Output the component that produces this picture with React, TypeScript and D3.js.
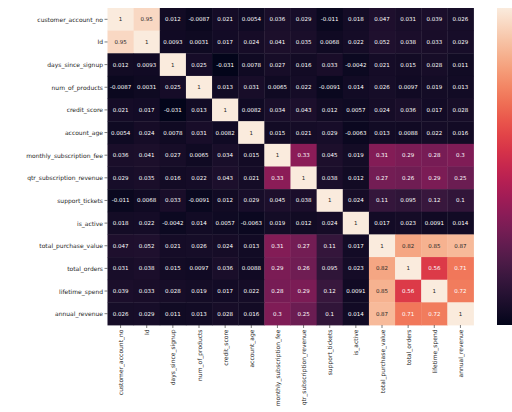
import React from "react";
import * as d3 from "d3";

const labels: string[] = [
  "customer_account_no",
  "Id",
  "days_since_signup",
  "num_of_products",
  "credit_score",
  "account_age",
  "monthly_subscription_fee",
  "qtr_subscription_revenue",
  "support_tickets",
  "is_active",
  "total_purchase_value",
  "total_orders",
  "lifetime_spend",
  "annual_revenue",
];

const corrRows: number[][] = [
  [1, 0.95, 0.012, -0.0087, 0.021, 0.0054, 0.036, 0.029, -0.011, 0.018, 0.047, 0.031, 0.039, 0.026],
  [0.95, 1, 0.0093, 0.0031, 0.017, 0.024, 0.041, 0.035, 0.0068, 0.022, 0.052, 0.038, 0.033, 0.029],
  [0.012, 0.0093, 1, 0.025, -0.031, 0.0078, 0.027, 0.016, 0.033, -0.0042, 0.021, 0.015, 0.028, 0.011],
  [-0.0087, 0.0031, 0.025, 1, 0.013, 0.031, 0.0065, 0.022, -0.0091, 0.014, 0.026, 0.0097, 0.019, 0.013],
  [0.021, 0.017, -0.031, 0.013, 1, 0.0082, 0.034, 0.043, 0.012, 0.0057, 0.024, 0.036, 0.017, 0.028],
  [0.0054, 0.024, 0.0078, 0.031, 0.0082, 1, 0.015, 0.021, 0.029, -0.0063, 0.013, 0.0088, 0.022, 0.016],
  [0.036, 0.041, 0.027, 0.0065, 0.034, 0.015, 1, 0.33, 0.045, 0.019, 0.31, 0.29, 0.28, 0.3],
  [0.029, 0.035, 0.016, 0.022, 0.043, 0.021, 0.33, 1, 0.038, 0.012, 0.27, 0.26, 0.29, 0.25],
  [-0.011, 0.0068, 0.033, -0.0091, 0.012, 0.029, 0.045, 0.038, 1, 0.024, 0.11, 0.095, 0.12, 0.1],
  [0.018, 0.022, -0.0042, 0.014, 0.0057, -0.0063, 0.019, 0.012, 0.024, 1, 0.017, 0.023, 0.0091, 0.014],
  [0.047, 0.052, 0.021, 0.026, 0.024, 0.013, 0.31, 0.27, 0.11, 0.017, 1, 0.82, 0.85, 0.87],
  [0.031, 0.038, 0.015, 0.0097, 0.036, 0.0088, 0.29, 0.26, 0.095, 0.023, 0.82, 1, 0.56, 0.71],
  [0.039, 0.033, 0.028, 0.019, 0.017, 0.022, 0.28, 0.29, 0.12, 0.0091, 0.85, 0.56, 1, 0.72],
  [0.026, 0.029, 0.011, 0.013, 0.028, 0.016, 0.3, 0.25, 0.1, 0.014, 0.87, 0.71, 0.72, 1],
];

// approximate seaborn "rocket"
const rocketStops = ["#03051a", "#35193e", "#701f57", "#ad1759", "#e13342", "#f37651", "#f6b48f", "#faebdd"];
const rocket = d3.interpolateRgbBasis(rocketStops);

const W = 512;
const H = 412;
const gridLeft = 107.5;
const gridRight = 473.5;
const gridTop = 8;
const gridBottom = 325;
const cbLeft = 497;
const cbWidth = 16;

function relLum(c: string): number {
  const rgb = d3.rgb(c);
  const f = (v: number) => {
    const s = v / 255;
    return s <= 0.03928 ? s / 12.92 : Math.pow((s + 0.055) / 1.055, 2.4);
  };
  return 0.2126 * f(rgb.r) + 0.7152 * f(rgb.g) + 0.0722 * f(rgb.b);
}

const fmt = d3.format(".2~g");

export default function App() {
  const all = corrRows.flat();
  const vmin = d3.min(all) as number;
  const vmax = d3.max(all) as number;
  const color = d3.scaleSequential(rocket).domain([vmin, vmax]);

  const x = d3.scaleBand<string>().domain(labels).range([gridLeft, gridRight]);
  const y = d3.scaleBand<string>().domain(labels).range([gridTop, gridBottom]);

  const gradStops = d3.range(0, 1.0001, 0.05);
  const font = "DejaVu Sans, sans-serif";

  return (
    <svg
      width={W}
      height={H}
      viewBox={`0 0 ${W} ${H}`}
      style={{ position: "absolute", left: 0, top: 0, background: "#ffffff" }}
    >
      <defs>
        <linearGradient id="cbgrad" x1="0" y1="1" x2="0" y2="0">
          {gradStops.map((t) => (
            <stop key={t} offset={t} stopColor={rocket(t)} />
          ))}
        </linearGradient>
      </defs>
      <rect x={0} y={0} width={W} height={H} fill="#ffffff" />
      {corrRows.map((row, i) =>
        row.map((v, j) => {
          const c = color(v);
          const tc = relLum(c) > 0.408 ? "#262626" : "#ffffff";
          const cx = (x(labels[j]) as number) + x.bandwidth() / 2;
          const cy = (y(labels[i]) as number) + y.bandwidth() / 2;
          return (
            <g key={`${i}-${j}`}>
              <rect
                x={x(labels[j])}
                y={y(labels[i])}
                width={x.bandwidth() + 0.4}
                height={y.bandwidth() + 0.4}
                fill={c}
              />
              <text
                x={cx}
                y={cy}
                fill={tc}
                fontSize={5.5}
                fontFamily={font}
                textAnchor="middle"
                dominantBaseline="central"
              >
                {fmt(v).replace("\u2212", "-")}
              </text>
            </g>
          );
        })
      )}
      {labels.map((l) => {
        const cy = (y(l) as number) + y.bandwidth() / 2;
        return (
          <g key={`yl-${l}`}>
            <line x1={gridLeft - 3} x2={gridLeft} y1={cy} y2={cy} stroke="#262626" strokeWidth={0.6} />
            <text
              x={gridLeft - 4.5}
              y={cy}
              fontSize={6}
              fontFamily={font}
              fill="#262626"
              textAnchor="end"
              dominantBaseline="central"
            >
              {l}
            </text>
          </g>
        );
      })}
      {labels.map((l) => {
        const cx = (x(l) as number) + x.bandwidth() / 2;
        return (
          <g key={`xl-${l}`}>
            <line x1={cx} x2={cx} y1={gridBottom} y2={gridBottom + 3} stroke="#262626" strokeWidth={0.6} />
            <text
              transform={`translate(${cx},${gridBottom + 4.5}) rotate(-90)`}
              fontSize={6}
              fontFamily={font}
              fill="#262626"
              textAnchor="end"
              dominantBaseline="central"
            >
              {l}
            </text>
          </g>
        );
      })}
      <rect x={cbLeft} y={gridTop} width={cbWidth} height={gridBottom - gridTop} fill="url(#cbgrad)" />
    </svg>
  );
}
